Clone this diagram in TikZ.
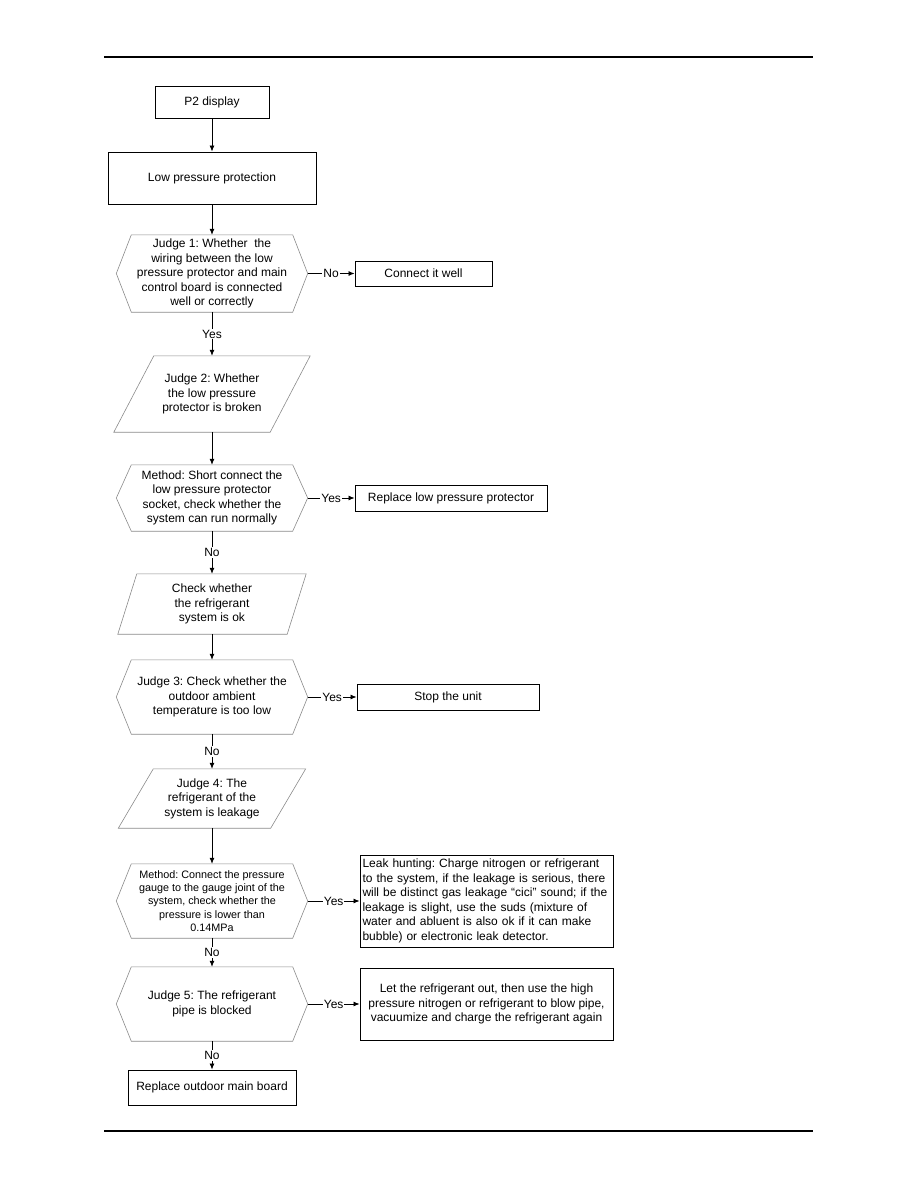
\documentclass[tikz,border=0pt]{standalone}
\usepackage{fontspec}
\setmainfont{Liberation Sans}
\usetikzlibrary{arrows.meta}
\definecolor{cshape}{HTML}{8A8A8A}
\frenchspacing

\tikzset{
  base/.style={align=center, inner sep=1pt, font={\fontsize{12}{14.5}\selectfont}},
  box/.style={base, draw=black, line width=0.9pt},
  judge/.style={base},
  flow/.style={line width=0.8pt, -{Latex[length=6pt,width=5pt]}},
  lbl/.style={fill=white, inner sep=1pt, font={\fontsize{12}{14}\selectfont}},
  rule/.style={line width=1.4pt},
  shapeline/.style={draw=cshape, line width=0.6pt},
}

\begin{document}
\begin{tikzpicture}[x=1pt, y=-1pt]
    \useasboundingbox (0,0) rectangle (918,1188);

    % page rules
    \draw[rule] (104,57) -- (813,57);
    \draw[rule] (104,1131) -- (813,1131);

    % main column
    \node[box, minimum width=114, minimum height=32] (p2) at (212,102) {P2 display};
    \node[box, minimum width=208, minimum height=52] (lpp) at (212,178) {Low pressure protection};
    \node[judge, minimum width=191, minimum height=77] (j1) at (212,273.5) {
      Judge 1: Whether\ \ the\\ wiring between the low\\ pressure protector and main\\
      control board is connected\\ well or correctly};
    \node[judge, minimum width=196, minimum height=76] (j2) at (212,394) {
      Judge 2: Whether\\ the low pressure\\ protector is broken};
    \node[judge, minimum width=191, minimum height=66] (m1) at (212,498) {
      Method: Short connect the\\ low pressure protector\\ socket, check whether the\\
      system can run normally};
    \node[judge, minimum width=188, minimum height=60] (chk) at (212,604) {
      Check whether\\ the refrigerant\\ system is ok};
    \node[judge, minimum width=191, minimum height=74] (j3) at (212,697) {
      Judge 3: Check whether the\\ outdoor ambient\\ temperature is too low};
    \node[judge, minimum width=187, minimum height=59] (j4) at (212,798.5) {
      Judge 4: The\\ refrigerant of the\\ system is leakage};
    \node[judge, minimum width=191, minimum height=74, font={\fontsize{10.8}{13.2}\selectfont}] (m2) at (212,901) {
      Method: Connect the pressure\\ gauge to the gauge joint of the\\ system, check whether the\\
      pressure is lower than\\ 0.14MPa};
    \node[judge, minimum width=191, minimum height=74] (j5) at (212,1004) {
      Judge 5: The refrigerant\\ pipe is blocked};
    \node[box, minimum width=168, minimum height=35] (rob) at (212,1087.5) {Replace outdoor main board};

    % right column
    \node[box, minimum width=137, minimum height=25] (c1) at (423.5,273.5) {Connect it well};
    \node[box, minimum width=192, minimum height=26] (r1) at (451,498) {Replace low pressure protector};
    \node[box, minimum width=182, minimum height=26] (stop) at (448,697) {Stop the unit};
    \node[box, align=left, inner sep=2.5pt, text width=248, minimum height=92] (leak) at (486.5,901) {
      Leak hunting: Charge nitrogen or refrigerant\\ to the system, if the leakage is serious, there\\
      will be distinct gas leakage “cici” sound; if the\\ leakage is slight, use the suds (mixture of\\
      water and abluent is also ok if it can make\\ bubble) or electronic leak detector.};
    \node[box, minimum width=253, minimum height=72] (blow) at (486.5,1004) {
      Let the refrigerant out, then use the high\\ pressure nitrogen or refrigerant to blow pipe,\\
      vacuumize and charge the refrigerant again};

    % outlines
    \foreach \n in {j1,m1,j3,m2,j5}
      \draw[shapeline] (\n.west) -- ([xshift=15]\n.north west) -- ([xshift=-15]\n.north east)
        -- (\n.east) -- ([xshift=-15]\n.south east) -- ([xshift=15]\n.south west) -- cycle;
    \foreach \n/\s in {j2/40,chk/19,j4/35}
      \draw[shapeline] ([xshift=\s]\n.north west) -- (\n.north east)
        -- ([xshift=-\s]\n.south east) -- (\n.south west) -- cycle;

    % connectors
    \draw[flow] (p2) -- (lpp);
    \draw[flow] (lpp) -- (j1);
    \draw[flow] (j1) -- node[lbl] {No} (c1);
    \draw[flow] (j1) -- node[lbl] {Yes} (j2);
    \draw[flow] (j2) -- (m1);
    \draw[flow] (m1) -- node[lbl] {Yes} (r1);
    \draw[flow] (m1) -- node[lbl] {No} (chk);
    \draw[flow] (chk) -- (j3);
    \draw[flow] (j3) -- node[lbl] {Yes} (stop);
    \draw[flow] (j3) -- node[lbl] {No} (j4);
    \draw[flow] (j4) -- (m2);
    \draw[flow] (m2) -- node[lbl] {Yes} (leak);
    \draw[flow] (m2) -- node[lbl] {No} (j5);
    \draw[flow] (j5) -- node[lbl] {Yes} (blow);
    \draw[flow] (j5) -- node[lbl] {No} (rob);
\end{tikzpicture}
\end{document}
